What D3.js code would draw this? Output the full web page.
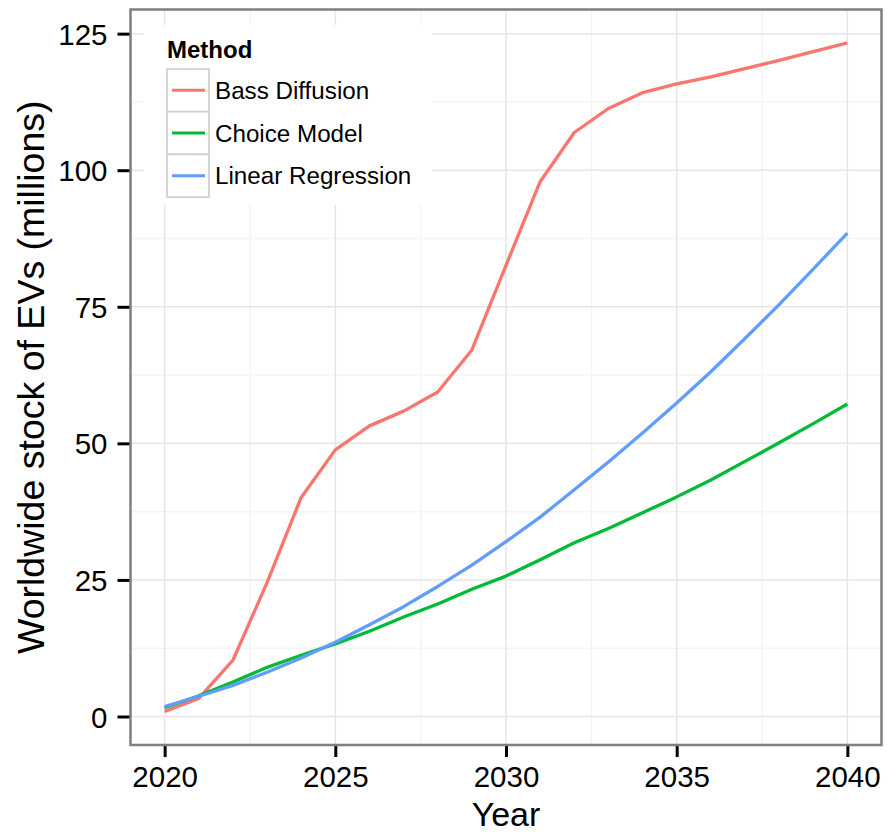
<!DOCTYPE html>
<html>
<head>
<meta charset="utf-8">
<script src="https://cdn.jsdelivr.net/npm/d3@7"></script>
<style>
  html, body { margin: 0; padding: 0; background: #ffffff; }
  svg { display: block; font-family: "Liberation Sans", Arial, Helvetica, sans-serif; }
</style>
</head>
<body>
<svg id="chart" width="887" height="832"></svg>
<script>
// Projected worldwide EV stock (millions) by forecasting method
const years = [2020, 2021, 2022, 2023, 2024, 2025, 2026, 2027, 2028, 2029, 2030,
               2031, 2032, 2033, 2034, 2035, 2036, 2037, 2038, 2039, 2040];

const bassDiffusion = [0.9, 3.3, 10.3, 24.5, 40.1, 48.8, 53.2, 55.9, 59.4, 67.1, 82.6,
                       97.9, 106.9, 111.3, 114.2, 115.8, 117.1, 118.6, 120.1, 121.7, 123.3];
const choiceModel = [1.6, 3.8, 6.3, 9.0, 11.2, 13.3, 15.6, 18.2, 20.6, 23.3, 25.7,
                     28.7, 31.8, 34.4, 37.3, 40.2, 43.3, 46.7, 50.1, 53.6, 57.2];
const linearRegression = [1.8, 3.7, 5.7, 8.1, 10.7, 13.6, 16.8, 20.1, 23.8, 27.7, 32.0,
                          36.5, 41.5, 46.6, 51.9, 57.4, 63.1, 69.2, 75.4, 81.9, 88.5];

const methods = ["Bass Diffusion", "Choice Model", "Linear Regression"];
const methodColors = ["#F8766D", "#00BA38", "#619CFF"];

const xTicks = [2020, 2025, 2030, 2035, 2040];
const xMinor = [2022.5, 2027.5, 2032.5, 2037.5];
const yTicks = [0, 25, 50, 75, 100, 125];
const yMinor = [12.5, 37.5, 62.5, 87.5, 112.5];

const seriesValues = [bassDiffusion, choiceModel, linearRegression];
const series = methods.map((name, i) => ({
  name,
  color: methodColors[i],
  points: years.map((yr, j) => ({ year: yr, value: seriesValues[i][j] }))
}));

const svg = d3.select("#chart");
const panel = { left: 130.5, right: 881.5, top: 9.5, bottom: 745 };

// ggplot-style 5% expansion of the data range
const xExt = d3.extent(years);
const xPad = (xExt[1] - xExt[0]) * 0.05;
const allVals = seriesValues.flat();
const yExt = d3.extent(allVals);
const yPad = (yExt[1] - yExt[0]) * 0.05;

const x = d3.scaleLinear().domain([xExt[0] - xPad, xExt[1] + xPad]).range([panel.left, panel.right]);
const y = d3.scaleLinear().domain([yExt[0] - yPad, yExt[1] + yPad]).range([panel.bottom, panel.top]);

// panel background
svg.append("rect")
  .attr("x", panel.left).attr("y", panel.top)
  .attr("width", panel.right - panel.left).attr("height", panel.bottom - panel.top)
  .attr("fill", "#ffffff");

// grid lines
const grid = svg.append("g");
grid.selectAll(".xminor").data(xMinor).join("line")
  .attr("x1", d => x(d)).attr("x2", d => x(d))
  .attr("y1", panel.top).attr("y2", panel.bottom)
  .attr("stroke", "#f4f4f4").attr("stroke-width", 1.5);
grid.selectAll(".yminor").data(yMinor).join("line")
  .attr("y1", d => y(d)).attr("y2", d => y(d))
  .attr("x1", panel.left).attr("x2", panel.right)
  .attr("stroke", "#f4f4f4").attr("stroke-width", 1.5);
grid.selectAll(".xmajor").data(xTicks).join("line")
  .attr("x1", d => x(d)).attr("x2", d => x(d))
  .attr("y1", panel.top).attr("y2", panel.bottom)
  .attr("stroke", "#e6e6e6").attr("stroke-width", 1.5);
grid.selectAll(".ymajor").data(yTicks).join("line")
  .attr("y1", d => y(d)).attr("y2", d => y(d))
  .attr("x1", panel.left).attr("x2", panel.right)
  .attr("stroke", "#e6e6e6").attr("stroke-width", 1.5);

// series lines
const line = d3.line().x(d => x(d.year)).y(d => y(d.value));
svg.append("g").selectAll("path").data(series).join("path")
  .attr("d", d => line(d.points))
  .attr("fill", "none")
  .attr("stroke", d => d.color)
  .attr("stroke-width", 3.3)
  .attr("stroke-linejoin", "round");

// axes
const xAxis = svg.append("g")
  .attr("transform", `translate(0,${panel.bottom})`)
  .call(d3.axisBottom(x).tickValues(xTicks).tickFormat(d3.format("d")).tickSize(12).tickPadding(9));
const yAxis = svg.append("g")
  .attr("transform", `translate(${panel.left},0)`)
  .call(d3.axisLeft(y).tickValues(yTicks).tickFormat(d3.format("d")).tickSize(13).tickPadding(10));
[xAxis, yAxis].forEach(ax => {
  ax.select(".domain").remove();
  ax.selectAll(".tick line").attr("stroke", "#000000").attr("stroke-width", 3);
  ax.selectAll(".tick text")
    .attr("fill", "#000000")
    .attr("font-size", 29.5)
    .attr("font-family", "'Liberation Sans', Arial, sans-serif");
});
yAxis.selectAll(".tick text").attr("dy", "0.36em");

// panel border
svg.append("rect")
  .attr("x", panel.left).attr("y", panel.top)
  .attr("width", panel.right - panel.left).attr("height", panel.bottom - panel.top)
  .attr("fill", "none").attr("stroke", "#7f7f7f").attr("stroke-width", 2.5);

// axis titles
svg.append("text")
  .attr("x", (panel.left + panel.right) / 2).attr("y", 826)
  .attr("text-anchor", "middle")
  .attr("font-size", 34)
  .text("Year");
svg.append("text")
  .attr("transform", `translate(44,${(panel.top + panel.bottom) / 2}) rotate(-90)`)
  .attr("text-anchor", "middle")
  .attr("font-size", 37.5)
  .text("Worldwide stock of EVs (millions)");

// legend
const legend = svg.append("g");
legend.append("rect")
  .attr("x", 144).attr("y", 25).attr("width", 288).attr("height", 180)
  .attr("fill", "#ffffff");
legend.append("text")
  .attr("x", 167).attr("y", 58)
  .attr("font-size", 24).attr("font-weight", "bold")
  .text("Method");
const keyH = 42.7;
const items = legend.selectAll(".item").data(series).join("g")
  .attr("transform", (d, i) => `translate(167,${69 + i * keyH})`);
items.append("rect")
  .attr("width", 42).attr("height", keyH)
  .attr("fill", "#ffffff").attr("stroke", "#cccccc").attr("stroke-width", 1.6);
items.append("line")
  .attr("x1", 5).attr("x2", 38)
  .attr("y1", keyH / 2).attr("y2", keyH / 2)
  .attr("stroke", d => d.color).attr("stroke-width", 3);
items.append("text")
  .attr("x", 48).attr("y", keyH / 2 + 8.5)
  .attr("font-size", 24.2)
  .text(d => d.name);
</script>
</body>
</html>
